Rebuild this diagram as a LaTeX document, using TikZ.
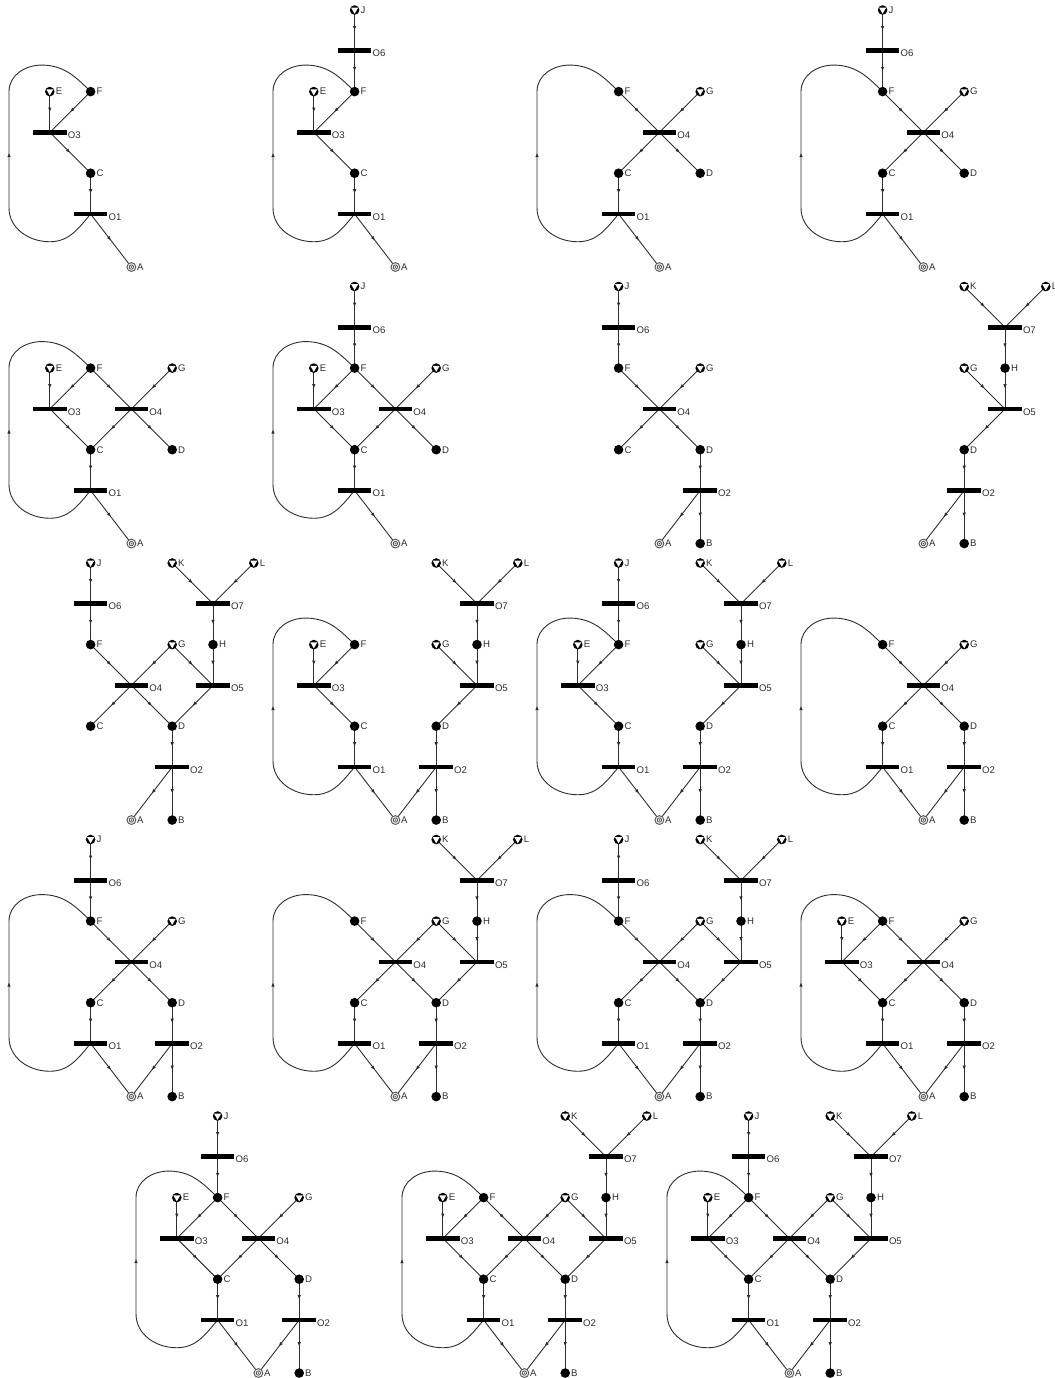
\documentclass[tikz,border=0pt]{standalone}
\usepackage{fontspec}
\setmainfont{Liberation Sans}
\usetikzlibrary{arrows.meta, decorations.markings, backgrounds}
\definecolor{netgrey}{HTML}{2E2E2E}
\definecolor{sinkgrey}{HTML}{5A5A5A}

\tikzset{
  every label/.style={font=\fontsize{4.8}{5.6}\selectfont, text=netgrey, inner sep=0.2pt},
  place/.style={circle, fill=black, minimum size=4.8pt, inner sep=0pt,
                label distance=0.5pt, label={right:#1}},
  src/.style={circle, fill=black, minimum size=4.8pt, inner sep=0pt,
              label distance=0.5pt, label={right:#1},
              path picture={\fill[white] ([xshift=-1.75pt,yshift=1.15pt]path picture bounding box.center)
                -- ++(3.5pt,0) -- ([yshift=-1.9pt]path picture bounding box.center) -- cycle;}},
  sink/.style={circle, draw=sinkgrey, line width=0.5pt, fill=white, minimum size=4.4pt,
               inner sep=0pt, label distance=0.7pt, label={right:#1},
               path picture={\draw[sinkgrey, line width=0.45pt] (path picture bounding box.center) circle (1.1pt);
                 \fill[sinkgrey] (path picture bounding box.center) circle (0.45pt);}},
  op/.style={rectangle, fill=black, minimum width=16.8pt, minimum height=2.4pt, inner sep=0pt,
             label distance=0.8pt, label={[yshift=-1.4pt]right:#1}},
  flow/.style={netgrey, line width=0.45pt, postaction={decorate},
               decoration={markings, mark=at position 0.5 with {\arrow{Latex[length=2.2pt,width=1.8pt]}}}},
  % fixed places of the full net (column, row)
  n-J/.style={src=J, at={(2,0)}},   n-K/.style={src=K, at={(4,0)}},   n-L/.style={src=L, at={(6,0)}},
  n-O6/.style={op=O6, at={(2,1)}},  n-O7/.style={op=O7, at={(5,1)}},
  n-E/.style={src=E, at={(1,2)}},   n-F/.style={place=F, at={(2,2)}},
  n-G/.style={src=G, at={(4,2)}},   n-H/.style={place=H, at={(5,2)}},
  n-O3/.style={op=O3, at={(1,3)}},  n-O4/.style={op=O4, at={(3,3)}},  n-O5/.style={op=O5, at={(5,3)}},
  n-C/.style={place=C, at={(2,4)}}, n-D/.style={place=D, at={(4,4)}},
  n-O1/.style={op=O1, at={(2,5)}},  n-O2/.style={op=O2, at={(4,5)}},
  n-A/.style={sink=A, at={(3,6.3)}}, n-B/.style={place=B, at={(4,6.3)}}
}

% arcs of the net, grouped by operation
\newcommand{\netJ}{\foreach \a/\b in {J/O6,O6/F} \draw[flow] (\a.center) -- (\b.center);}
\newcommand{\netE}{\foreach \a/\b in {E/O3,F/O3,O3/C} \draw[flow] (\a.center) -- (\b.center);}
\newcommand{\netX}{\foreach \a/\b in {F/O4,G/O4,O4/C,O4/D} \draw[flow] (\a.center) -- (\b.center);}
\newcommand{\netK}{\foreach \a/\b in {K/O7,L/O7,O7/H} \draw[flow] (\a.center) -- (\b.center);}
\newcommand{\netV}{\foreach \a/\b in {G/O5,H/O5,O5/D} \draw[flow] (\a.center) -- (\b.center);}
\newcommand{\netC}{\foreach \a/\b in {C/O1,O1/A} \draw[flow] (\a.center) -- (\b.center);
  \draw[flow] (O1.center) to[out=230,in=0] (1,5.68) to[out=180,in=270] (0,4.85) -- (0,2)
    to[out=90,in=180] (0.8,1.35) to[out=0,in=135] (F.center);}
\newcommand{\netD}{\foreach \a/\b in {D/O2,O2/A,O2/B} \draw[flow] (\a.center) -- (\b.center);}

% one small net: id, left x, top y (px), places, arcs
\newcommand{\netpanel}[5]{%
  \begin{scope}[shift={({#2*0.5pt},{-#3*0.5pt})}, name prefix=#1-]
    \foreach \n in {#4} {\node[n-\n] (\n) {};}
    \begin{scope}[on background layer] #5 \end{scope}
  \end{scope}}

\begin{document}
\begin{tikzpicture}[x=20.4pt, y=-20.4pt]
\useasboundingbox (0,0) rectangle (527.5pt,-689pt);

\netpanel{p1}{9}{10}{E,F,O3,C,O1,A}{\netE\netC}
\netpanel{p2}{273}{10}{J,O6,E,F,O3,C,O1,A}{\netJ\netE\netC}
\netpanel{p3}{537}{10}{F,G,O4,C,D,O1,A}{\netX\netC}
\netpanel{p4}{801}{10}{J,O6,F,G,O4,C,D,O1,A}{\netJ\netX\netC}

\netpanel{p5}{9}{286.5}{E,F,G,O3,O4,C,D,O1,A}{\netE\netX\netC}
\netpanel{p6}{273}{286.5}{J,O6,E,F,G,O3,O4,C,D,O1,A}{\netJ\netE\netX\netC}
\netpanel{p7}{537}{286.5}{J,O6,F,G,O4,C,D,O2,A,B}{\netJ\netX\netD}
\netpanel{p8}{801}{286.5}{K,L,O7,G,H,O5,D,O2,A,B}{\netK\netV\netD}

\netpanel{p9}{9}{563}{J,K,L,O6,O7,F,G,H,O4,O5,C,D,O2,A,B}{\netJ\netK\netX\netV\netD}
\netpanel{p10}{273}{563}{K,L,O7,E,F,G,H,O3,O5,C,D,O1,O2,A,B}{\netK\netE\netV\netC\netD}
\netpanel{p11}{537}{563}{J,K,L,O6,O7,E,F,G,H,O3,O5,C,D,O1,O2,A,B}{\netJ\netK\netE\netV\netC\netD}
\netpanel{p12}{801}{563}{F,G,O4,C,D,O1,O2,A,B}{\netX\netC\netD}

\netpanel{p13}{9}{839.5}{J,O6,F,G,O4,C,D,O1,O2,A,B}{\netJ\netX\netC\netD}
\netpanel{p14}{273}{839.5}{K,L,O7,F,G,H,O4,O5,C,D,O1,O2,A,B}{\netK\netX\netV\netC\netD}
\netpanel{p15}{537}{839.5}{J,K,L,O6,O7,F,G,H,O4,O5,C,D,O1,O2,A,B}{\netJ\netK\netX\netV\netC\netD}
\netpanel{p16}{801}{839.5}{E,F,G,O3,O4,C,D,O1,O2,A,B}{\netE\netX\netC\netD}

\netpanel{p17}{136}{1116}{J,O6,E,F,G,O3,O4,C,D,O1,O2,A,B}{\netJ\netE\netX\netC\netD}
\netpanel{p18}{402}{1116}{K,L,O7,E,F,G,H,O3,O4,O5,C,D,O1,O2,A,B}{\netK\netE\netX\netV\netC\netD}
\netpanel{p19}{667}{1116}{J,K,L,O6,O7,E,F,G,H,O3,O4,O5,C,D,O1,O2,A,B}{\netJ\netK\netE\netX\netV\netC\netD}
\end{tikzpicture}
\end{document}
